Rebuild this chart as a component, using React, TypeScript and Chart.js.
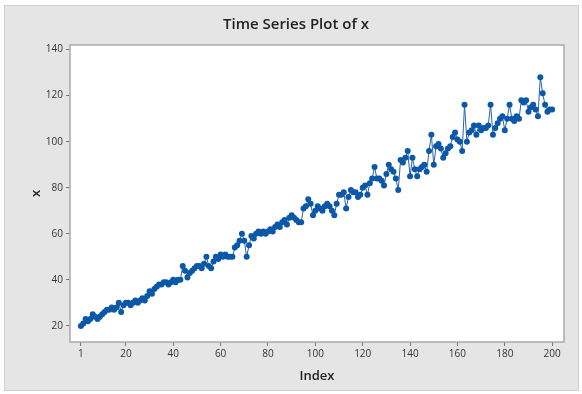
import React, { useEffect, useRef } from "react";
import { Chart, registerables } from "chart.js";

Chart.register(...registerables);

const xValues: number[] = [
  20, 21, 23, 22, 23, 25, 24, 23, 24, 25,
  26, 27, 27, 28, 27, 28, 30, 26, 29, 30,
  30, 29, 30, 31, 30, 31, 32, 31, 33, 35,
  34, 36, 37, 38, 38, 39, 39, 38, 39, 40,
  39, 40, 40, 46, 44, 41, 43, 44, 45, 46,
  46, 45, 47, 50, 46, 45, 48, 50, 49, 51,
  50, 51, 50, 50, 50, 54, 55, 57, 60, 57,
  50, 55, 59, 58, 60, 61, 60, 61, 60, 61,
  62, 61, 63, 64, 63, 65, 66, 64, 67, 68,
  67, 66, 65, 65, 71, 72, 75, 73, 68, 70,
  72, 71, 70, 72, 73, 72, 70, 68, 73, 77,
  77, 78, 71, 76, 79, 78, 78, 76, 77, 80,
  81, 77, 82, 84, 89, 84, 84, 83, 81, 86,
  90, 88, 87, 84, 79, 92, 91, 93, 96, 85,
  93, 88, 85, 88, 89, 90, 87, 96, 103, 90,
  98, 99, 97, 93, 95, 97, 98, 102, 104, 101,
  100, 96, 116, 100, 104, 105, 107, 103, 107, 105,
  106, 106, 107, 116, 103, 106, 108, 110, 111, 105,
  110, 116, 110, 109, 111, 110, 118, 117, 118, 113,
  115, 116, 114, 111, 128, 121, 116, 113, 114, 114,
];

const indexTicks: number[] = [1, 20, 40, 60, 80, 100, 120, 140, 160, 180, 200];
const yTicks: number[] = [20, 40, 60, 80, 100, 120, 140];

const chartTitle = "Time Series Plot of x";
const xTitle = "Index";
const yTitle = "x";

const FONT = "'Open Sans', 'Noto Sans', sans-serif";

const frame = {
  id: "frame",
  beforeDraw(chart: any) {
    const { ctx, chartArea } = chart;
    ctx.save();
    ctx.fillStyle = "#ffffff";
    ctx.fillRect(chartArea.left, chartArea.top, chartArea.right - chartArea.left, chartArea.bottom - chartArea.top);
    ctx.restore();
  },
  afterDraw(chart: any) {
    const { ctx, chartArea } = chart;
    ctx.save();
    ctx.strokeStyle = "#a9a9a9";
    ctx.lineWidth = 1.5;
    ctx.strokeRect(chartArea.left, chartArea.top, chartArea.right - chartArea.left, chartArea.bottom - chartArea.top);
    ctx.restore();
  },
};

export default function App() {
  const ref = useRef<HTMLCanvasElement>(null);

  useEffect(() => {
    document.body.style.margin = "0";
    const points = xValues.map((v, i) => ({ x: i + 1, y: v }));
    const chart = new Chart(ref.current!, {
      type: "line",
      data: {
        datasets: [
          {
            data: points,
            borderColor: "#2a62ad",
            borderWidth: 1,
            pointRadius: 3,
            pointBackgroundColor: "#0b57a8",
            pointBorderColor: "#0b57a8",
            pointBorderWidth: 0,
            tension: 0,
          },
        ],
      },
      options: {
        animation: false,
        responsive: false,
        layout: { padding: { left: 28, right: 18, top: 2, bottom: 0 } },
        plugins: {
          legend: { display: false },
          tooltip: { enabled: false },
          title: {
            display: true,
            text: chartTitle,
            color: "#222222",
            font: { family: FONT, size: 15, weight: "600" },
            padding: { top: 14, bottom: 11 },
          },
        },
        scales: {
          x: {
            type: "linear",
            min: -3.6,
            max: 205,
            afterBuildTicks(scale: any) {
              scale.ticks = indexTicks.map((v) => ({ value: v }));
            },
            afterFit(scale: any) {
              scale.height = 52;
            },
            ticks: {
              color: "#333333",
              font: { family: FONT, size: 10 },
              padding: 2,
              maxRotation: 0,
              autoSkip: false,
            },
            grid: {
              display: true,
              drawOnChartArea: false,
              drawTicks: true,
              tickLength: 4,
              tickColor: "#777777",
            },
            border: { display: false },
            title: {
              display: true,
              text: xTitle,
              color: "#222222",
              font: { family: FONT, size: 13, weight: "600" },
              padding: { top: 0, bottom: 10 },
            },
          },
          y: {
            type: "linear",
            min: 13,
            max: 142,
            afterBuildTicks(scale: any) {
              scale.ticks = yTicks.map((v) => ({ value: v }));
            },
            afterFit(scale: any) {
              scale.width = 42;
            },
            ticks: {
              color: "#333333",
              font: { family: FONT, size: 10 },
              padding: 3,
              autoSkip: false,
            },
            grid: {
              display: true,
              drawOnChartArea: false,
              drawTicks: true,
              tickLength: 4,
              tickColor: "#777777",
            },
            border: { display: false },
            title: {
              display: true,
              text: yTitle,
              color: "#222222",
              font: { family: FONT, size: 13, weight: "600" },
              padding: { top: 0, bottom: 0 },
            },
          },
        },
      },
      plugins: [frame],
    });
    return () => chart.destroy();
  }, []);

  return (
    <div style={{ position: "relative", width: 582, height: 394, background: "#ffffff" }}>
      <div
        style={{
          position: "absolute",
          left: 4,
          top: 5,
          width: 575,
          height: 386,
          background: "#e5e5e5",
          border: "1px solid #d0d0d0",
          boxSizing: "border-box",
        }}
      />
      <canvas ref={ref} width={582} height={394} style={{ position: "absolute", left: 0, top: 0 }} />
    </div>
  );
}
